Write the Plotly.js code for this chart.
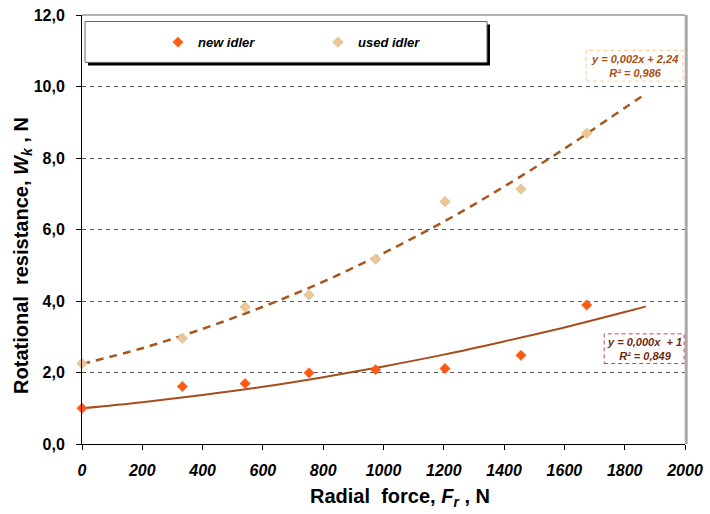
<!DOCTYPE html>
<html>
<head>
<meta charset="utf-8">
<script src="https://cdn.plot.ly/plotly-3.0.1.min.js"></script>
<style>html,body{margin:0;padding:0;background:#fff;}#chart{width:710px;height:514px;}</style>
</head>
<body>
<div id="chart"></div>
<script>
// Measured points
const forceX = [0, 333, 541, 753, 974, 1204, 1456, 1674];
const newIdler = [1.00, 1.61, 1.69, 1.99, 2.08, 2.11, 2.48, 3.89];
const usedIdler = [2.25, 2.96, 3.83, 4.17, 5.17, 6.78, 7.13, 8.69];
// Trend lines
const trendX = [0, 200, 400, 600, 800, 1000, 1200, 1400, 1600, 1800, 1870];
const trendNew = [1.00, 1.17, 1.37, 1.60, 1.87, 2.17, 2.50, 2.87, 3.26, 3.69, 3.85];
const trendUsed = [2.24, 2.68, 3.22, 3.84, 4.54, 5.34, 6.22, 7.20, 8.26, 9.40, 9.80];
// Axis ticks
const xTicks = [0, 200, 400, 600, 800, 1000, 1200, 1400, 1600, 1800, 2000];
const yTicks = [0, 2, 4, 6, 8, 10, 12];
const seriesNames = ['new idler', 'used idler'];
const eqUsed = 'y = 0,002x + 2,24<br>R² = 0,986';
const eqNew = 'y = 0,000x  + 1<br>R² = 0,849';

const F = 'Liberation Sans, Arial, sans-serif';

const traces = [
  {x: trendX, y: trendUsed, mode: 'lines', line: {color: '#A8561C', width: 2.5, dash: '8px,6px', shape: 'spline'}, showlegend: false, hoverinfo: 'skip'},
  {x: trendX, y: trendNew, mode: 'lines', line: {color: '#A84C1C', width: 2, shape: 'spline'}, showlegend: false, hoverinfo: 'skip'},
  {x: forceX, y: newIdler, name: seriesNames[0], mode: 'markers', cliponaxis: false,
   marker: {symbol: 'diamond', size: 8, color: '#FF5A14', line: {color: '#FF5A14', width: 0.5}}},
  {x: forceX, y: usedIdler, name: seriesNames[1], mode: 'markers', cliponaxis: false,
   marker: {symbol: 'diamond', size: 8, color: '#EEC596', line: {color: '#D6CE9C', width: 1}}}
];

const layout = {
  width: 710, height: 514,
  margin: {l: 82, r: 25, t: 14.5, b: 69.5},
  paper_bgcolor: '#ffffff', plot_bgcolor: '#ffffff',
  separators: ', ',
  font: {family: F, color: '#000'},
  showlegend: true,
  legend: {orientation: 'h', x: 0.126, xanchor: 'left', y: 0.9367, yanchor: 'middle',
    bgcolor: 'rgba(0,0,0,0)', borderwidth: 0, entrywidth: 115, entrywidthmode: 'pixels',
    font: {family: F, size: 13, weight: 'bold', style: 'italic', color: '#000'}, traceorder: 'normal'},
  xaxis: {range: [0, 2000], tickvals: xTicks, ticktext: xTicks.map(String), showgrid: false, zeroline: false,
    showline: true, linecolor: '#000', linewidth: 1, ticks: 'outside', ticklen: 5, tickcolor: '#000',
    ticklabelstandoff: 7,
    tickfont: {family: F, size: 16, weight: 'bold', style: 'italic', color: '#000'}},
  yaxis: {range: [0, 12], tickvals: yTicks, tickformat: '.1f', showgrid: true, gridcolor: '#555',
    griddash: '4px,4px', gridwidth: 1, zeroline: false,
    showline: true, linecolor: '#000', linewidth: 1, ticks: 'outside', ticklen: 5, tickcolor: '#000',
    ticklabelstandoff: 8,
    tickfont: {family: F, size: 16, weight: 'bold', color: '#000'}},
  shapes: [
    {type: 'line', xref: 'paper', yref: 'paper', x0: 0, x1: 1, y0: 1, y1: 1, line: {color: '#999', width: 1.5}},
    {type: 'line', xref: 'paper', yref: 'paper', x0: 1.002, x1: 1.002, y0: 0, y1: 1, line: {color: '#aaa', width: 3}},
    // legend box with shadow
    {type: 'rect', xref: 'paper', yref: 'paper', x0: (88-82)/603, x1: (490-82)/603, y0: (444.5-65)/430, y1: (444.5-24)/430,
     fillcolor: '#000', line: {width: 0}},
    {type: 'rect', xref: 'paper', yref: 'paper', x0: (85-82)/603, x1: (487-82)/603, y0: (444.5-62)/430, y1: (444.5-21)/430,
     fillcolor: '#fff', line: {color: '#666', width: 1}},
    // trend equation boxes
    {type: 'rect', xref: 'x', yref: 'y', x0: 1672, x1: 1993, y0: 10.15, y1: 11.01, fillcolor: '#fff',
     line: {color: '#FFC890', width: 1, dash: '4px,3px'}},
    {type: 'rect', xref: 'x', yref: 'y', x0: 1732, x1: 1997, y0: 2.25, y1: 3.08, fillcolor: '#fff',
     line: {color: '#C04848', width: 1, dash: '4px,3px'}}
  ],
  annotations: [
    {xref: 'x', yref: 'y', x: 1832, y: 10.58, text: eqUsed, showarrow: false,
     font: {family: F, size: 11, weight: 'bold', style: 'italic', color: '#A8500F'}},
    {xref: 'x', yref: 'y', x: 1864, y: 2.665, text: eqNew, showarrow: false,
     font: {family: F, size: 11, weight: 'bold', style: 'italic', color: '#6E2A10'}},
    {xref: 'paper', yref: 'paper', x: (23-82)/603, y: (444.5-256)/430, xanchor: 'center', yanchor: 'middle',
     textangle: -90, showarrow: false,
     text: 'Rotational  resistance, <i>W<sub>k</sub></i> , N',
     font: {family: F, size: 20, weight: 'bold', color: '#000'}},
    {xref: 'paper', yref: 'paper', x: (400-82)/603, y: (444.5-498.5)/430, xanchor: 'center', yanchor: 'middle',
     showarrow: false,
     text: 'Radial  force, <i>F<sub>r</sub></i> , N',
     font: {family: F, size: 20, weight: 'bold', color: '#000'}}
  ]
};

Plotly.newPlot('chart', traces, layout, {staticPlot: true, displayModeBar: false});
</script>
</body>
</html>
